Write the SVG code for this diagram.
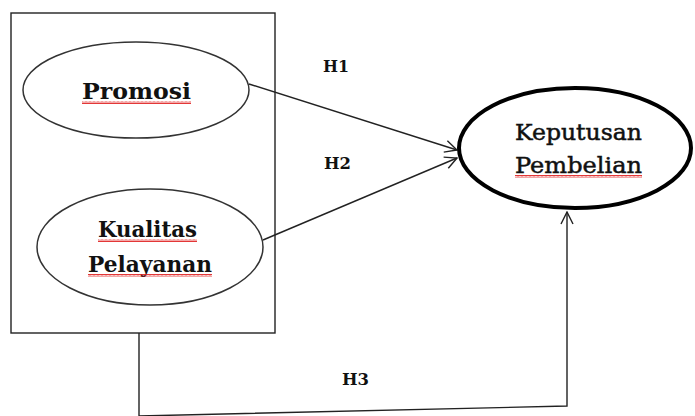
<svg xmlns="http://www.w3.org/2000/svg" width="695" height="416" viewBox="0 0 695 416">
<style>
.ln{fill:none;stroke:#222;stroke-width:1.4}
.node{fill:#fff;stroke:#333;stroke-width:1.5}
.main{fill:#fff;stroke:#000;stroke-width:4}
.t{font-family:"DejaVu Serif","Liberation Serif",serif;font-size:23px;fill:#111}
.b{font-weight:bold}
.r{stroke:#111;stroke-width:0.5}
.h{font-family:"DejaVu Serif","Liberation Serif",serif;font-size:16px;font-weight:bold;fill:#111}
.sq{fill:url(#wave)}
</style>
<defs>
<marker id="arr" viewBox="0 0 14 14" refX="13" refY="7" markerWidth="14" markerHeight="14" markerUnits="userSpaceOnUse" orient="auto">
<path d="M1,1 L13,7 L1,13" fill="none" stroke="#222" stroke-width="1.4"/>
</marker>
<pattern id="wave" width="4" height="3" patternUnits="userSpaceOnUse">
<path d="M0,2.5 L1,0.5 L2,2.5 L3,0.5 L4,2.5" fill="none" stroke="#e02020" stroke-width="0.9"/>
</pattern>
</defs>
<rect x="11" y="13" width="264" height="320" class="ln"/>
<g id="connectors">
<line x1="249" y1="84" x2="457" y2="150" class="ln" marker-end="url(#arr)"/>
<line x1="263" y1="240" x2="457" y2="158" class="ln" marker-end="url(#arr)"/>
<path d="M139,333 V416 L567,406 V212" class="ln" marker-end="url(#arr)"/>
</g>
<g id="promosi">
<ellipse cx="136" cy="90" rx="113" ry="48" class="node"/>
<text x="82" y="99" class="t b" textLength="109" lengthAdjust="spacingAndGlyphs">Promosi</text>
<rect x="82" y="101" width="109" height="3" class="sq"/>
</g>
<g id="kualitas">
<ellipse cx="150" cy="247" rx="113" ry="58" class="node"/>
<text x="98" y="237" class="t b" textLength="99" lengthAdjust="spacingAndGlyphs">Kualitas</text>
<rect x="98" y="239" width="99" height="3" class="sq"/>
<text x="88" y="272" class="t b" textLength="124" lengthAdjust="spacingAndGlyphs">Pelayanan</text>
<rect x="88" y="274" width="124" height="3" class="sq"/>
</g>
<g id="keputusan">
<ellipse cx="575" cy="148" rx="116" ry="60" class="main"/>
<text x="515" y="140" class="t r" textLength="127" lengthAdjust="spacingAndGlyphs">Keputusan</text>
<text x="515" y="173" class="t r" textLength="127" lengthAdjust="spacingAndGlyphs">Pembelian</text>
<rect x="515" y="175" width="127" height="3" class="sq"/>
</g>
<g id="labels">
<text x="323" y="72" class="h" textLength="26" lengthAdjust="spacingAndGlyphs">H1</text>
<text x="324" y="169" class="h" textLength="27" lengthAdjust="spacingAndGlyphs">H2</text>
<text x="342" y="385" class="h" textLength="27" lengthAdjust="spacingAndGlyphs">H3</text>
</g>
</svg>
